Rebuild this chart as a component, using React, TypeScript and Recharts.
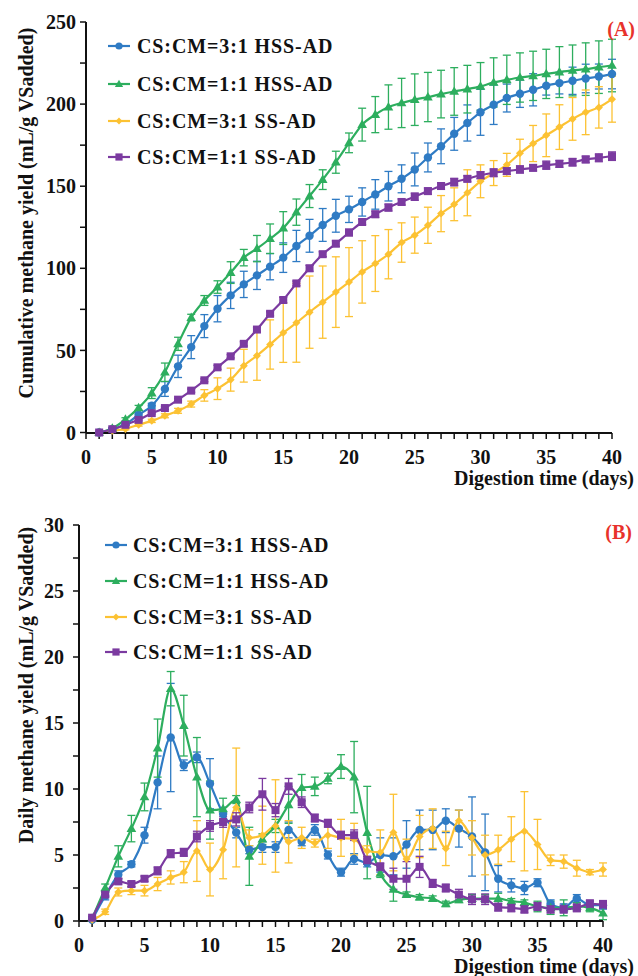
import React from 'react';
import { LineChart, Line, XAxis, YAxis, ErrorBar } from 'recharts';

const FONT = "'Liberation Serif', 'Times New Roman', serif";

const days = [1, 2, 3, 4, 5, 6, 7, 8, 9, 10, 11, 12, 13, 14, 15, 16, 17, 18, 19, 20,
  21, 22, 23, 24, 25, 26, 27, 28, 29, 30, 31, 32, 33, 34, 35, 36, 37, 38, 39, 40];

const seriesNames = ['CS:CM=3:1 HSS-AD', 'CS:CM=1:1 HSS-AD', 'CS:CM=3:1 SS-AD', 'CS:CM=1:1 SS-AD'];

// (A) cumulative methane yield
const cumHss31 = [0, 2, 5, 10.8, 16.3, 26.5, 40.3, 52, 64.8, 75.4, 83.5, 90.2, 95.7, 101, 106.5, 113.6, 119.8, 126.4, 132, 135.9,
  140.4, 145, 150, 154.5, 160.2, 167.5, 174.3, 181.9, 188.5, 195, 199.6, 203.7, 206.3, 208.7, 211.2, 212.8, 214.2, 215.6, 216.8, 218.3];
const cumHss31Err = [0.3, 0.5, 0.8, 1.2, 1.5, 4.5, 6.8, 7, 7, 8, 8, 8, 8.6, 8, 9, 9.5, 10, 10, 10, 8,
  8.6, 9, 9, 8.5, 10, 8.8, 10.6, 10, 11, 14, 12, 8.5, 8.3, 9.8, 5.7, 6.6, 8.3, 8.7, 7.6, 9];
const cumHss11 = [0, 2.5, 8, 15, 24, 36.7, 54, 70, 80.4, 88.6, 97.4, 106.5, 112, 118, 124.5, 134.2, 144, 154, 164.6, 176.4,
  187.5, 193.6, 198.2, 200.7, 202.7, 204.3, 206.1, 207.7, 209.1, 210.8, 213.2, 214.8, 216.2, 217.2, 218.4, 219.5, 220.5, 221.3, 222.5, 223.5];
const cumHss11Err = [0.3, 0.5, 1, 1.5, 3.3, 5.6, 4, 2, 3, 3.8, 6.6, 5, 8, 9, 10, 8, 7, 6, 6.7, 6,
  10, 11, 13.5, 15, 15.7, 15, 14.5, 14.5, 14.5, 14.5, 15, 15, 15, 15, 15, 15.5, 15.5, 16, 16, 16];
const cumSs31 = [0, 1, 2.2, 4.7, 7.1, 10.2, 13.2, 17.3, 22.6, 26.7, 32.2, 40.7, 46.8, 53.6, 60.7, 66.8, 73.3, 79.4, 85.5, 91.6,
  97.8, 102.9, 108.6, 115.7, 120.2, 126.2, 133.3, 139, 146, 153, 158, 163, 170, 176, 181, 186, 191, 195, 198, 203];
const cumSs31Err = [0.2, 0.4, 0.6, 0.8, 1, 1.2, 1.5, 1.8, 3.5, 6.6, 7, 10, 15, 15, 18, 24, 22, 22, 21.5, 21,
  19, 17, 15, 12, 11, 11, 11, 10, 14, 10, 7.6, 7, 8.6, 11, 13, 13.6, 13, 13.6, 12.6, 14];
const cumSs11 = [0, 2, 4.7, 7.7, 11.8, 14.9, 20, 25.5, 31.8, 39.7, 46.4, 54, 62.7, 72.3, 80.7, 90.8, 100, 108.6, 115, 121.8,
  128.2, 132.9, 137, 140.4, 143.6, 147, 150.1, 152.5, 154.5, 156.7, 158.2, 159.2, 160.2, 161.2, 162.8, 163.6, 164.6, 166.3, 167.3, 168.3];
const cumSs11Err = [0.2, 0.4, 0.3, 0.6, 0.5, 0.8, 0.7, 1, 0.9, 1.2, 1, 1.3, 1.5, 1.2, 1.6, 1.4, 1.8, 1.5, 1.7, 2,
  1.6, 1.9, 2.1, 1.8, 2.2, 1.9, 2, 2.3, 1.8, 2.1, 2.4, 2, 2.2, 1.9, 2.5, 2.1, 2.3, 2, 2.4, 2.6];

// (B) daily methane yield
const dayHss31 = [0.1, 1.9, 3.5, 4.3, 6.5, 10.5, 13.9, 11.8, 12.4, 10.4, 8.1, 6.7, 5.4, 5.6, 5.6, 6.9, 6.0, 6.9, 5.0, 3.7,
  4.7, 4.4, 5.0, 4.9, 5.8, 6.9, 6.9, 7.6, 7.0, 6.4, 5.2, 3.2, 2.7, 2.5, 2.9, 1.3, 1.0, 1.7, 1.2, 1.2];
const dayHss31Err = [0.1, 0.3, 0.3, 0.2, 0.6, 2.0, 4.1, 0.4, 0.4, 1.9, 0.5, 0.4, 0.3, 0.4, 0.4, 0.6, 0.3, 0.4, 0.3, 0.3,
  0.4, 0.3, 1.3, 1.4, 1.8, 1.5, 1.5, 0.9, 1.4, 3.0, 2.9, 1.0, 0.5, 0.5, 0.3, 0.3, 0.3, 0.3, 0.3, 0.3];
const dayHss11 = [0.2, 2.5, 4.9, 7.0, 9.4, 13.1, 17.6, 14.8, 10.9, 8.4, 8.5, 9.2, 4.9, 6.2, 7.2, 8.8, 10.1, 10.2, 10.8, 11.7,
  10.9, 6.7, 3.6, 2.4, 2.0, 1.8, 1.7, 1.3, 1.6, 1.7, 1.7, 1.7, 1.5, 1.4, 1.1, 1.0, 1.0, 1.1, 1.0, 0.6];
const dayHss11Err = [0.1, 0.3, 0.8, 1.0, 1.05, 2.2, 1.3, 2.3, 3.0, 2.2, 0.8, 0.3, 2.2, 0.4, 0.5, 1.4, 1.0, 0.7, 0.4, 0.9,
  2.7, 3.5, 0.3, 0.9, 0.2, 0.2, 0.2, 0.2, 0.2, 0.3, 0.3, 0.4, 0.2, 0.2, 0.4, 0.5, 0.6, 0.3, 0.3, 0.5];
const daySs31 = [0.1, 0.7, 2.2, 2.3, 2.3, 2.8, 3.3, 3.7, 5.3, 3.9, 5.4, 8.6, 6.3, 6.5, 7.2, 6.0, 6.3, 5.9, 6.5, 6.3,
  6.2, 5.3, 5.2, 6.7, 4.7, 6.4, 7.0, 5.5, 7.6, 6.3, 5.0, 5.4, 6.2, 6.8, 5.8, 4.6, 4.5, 4.0, 3.7, 3.9];
const daySs31Err = [0, 0.2, 0.3, 0.3, 0.4, 0.5, 0.5, 0.8, 2.3, 2.0, 2.2, 4.5, 0.6, 2.2, 3.5, 1.6, 0.8, 0.3, 1.0, 1.4,
  1.2, 0.4, 1.7, 2.9, 1.5, 1.6, 1.5, 1.3, 0.8, 1.3, 1.5, 1.1, 1.7, 3.0, 1.9, 0.4, 0.5, 0.6, 0.2, 0.5];
const daySs11 = [0.25, 2.0, 3.0, 2.8, 3.2, 3.8, 5.1, 5.2, 6.4, 7.2, 7.5, 7.7, 8.6, 9.6, 8.4, 10.2, 9.0, 7.8, 7.4, 6.5,
  6.5, 4.6, 4.1, 3.2, 3.2, 4.1, 2.85, 2.5, 2.0, 1.65, 1.65, 1.05, 1.0, 0.9, 1.1, 0.9, 0.9, 1.0, 1.3, 1.25];
const daySs11Err = [0.1, 0.2, 0.2, 0.2, 0.2, 0.3, 0.3, 0.3, 0.4, 0.4, 0.4, 0.5, 0.4, 1.2, 0.5, 0.6, 0.4, 0.3, 0.3, 0.3,
  0.4, 0.3, 0.3, 0.8, 1.3, 0.8, 0.3, 0.3, 0.4, 0.4, 0.4, 0.3, 0.3, 0.3, 0.3, 0.3, 0.3, 0.3, 0.3, 0.3];

// axis ticks
const xTicks = [0, 1, 2, 3, 4, 5, 6, 7, 8, 9, 10, 11, 12, 13, 14, 15, 16, 17, 18, 19, 20,
  21, 22, 23, 24, 25, 26, 27, 28, 29, 30, 31, 32, 33, 34, 35, 36, 37, 38, 39, 40];
const xLabels = [0, 5, 10, 15, 20, 25, 30, 35, 40];
const cumYTicks = [0, 25, 50, 75, 100, 125, 150, 175, 200, 225, 250];
const cumYLabels = [0, 50, 100, 150, 200, 250];
const dayYTicks = [0, 2.5, 5, 7.5, 10, 12.5, 15, 17.5, 20, 22.5, 25, 27.5, 30];
const dayYLabels = [0, 5, 10, 15, 20, 25, 30];

const colors = ['#2F7BC4', '#2DAE5E', '#FCC233', '#7B3AA0'];
const shapes = ['circle', 'triangle', 'diamond', 'square'];

const cumData = days.map((d, i) => ({
  day: d,
  s0: cumHss31[i], e0: cumHss31Err[i],
  s1: cumHss11[i], e1: cumHss11Err[i],
  s2: cumSs31[i], e2: cumSs31Err[i],
  s3: cumSs11[i], e3: cumSs11Err[i],
}));

const dayData = days.map((d, i) => ({
  day: d,
  s0: dayHss31[i], e0: dayHss31Err[i],
  s1: dayHss11[i], e1: dayHss11Err[i],
  s2: daySs31[i], e2: daySs31Err[i],
  s3: daySs11[i], e3: daySs11Err[i],
}));

function Marker({ shape, cx, cy, color, s }: { shape: string; cx: number; cy: number; color: string; s: number }) {
  if (shape === 'circle') return <circle cx={cx} cy={cy} r={s} fill={color} />;
  if (shape === 'triangle') {
    const pts = `${cx},${cy - s * 1.2} ${cx - s * 1.15},${cy + s * 0.8} ${cx + s * 1.15},${cy + s * 0.8}`;
    return <polygon points={pts} fill={color} />;
  }
  if (shape === 'diamond') {
    const pts = `${cx},${cy - s} ${cx + s},${cy} ${cx},${cy + s} ${cx - s},${cy}`;
    return <polygon points={pts} fill={color} />;
  }
  return <rect x={cx - s} y={cy - s} width={s * 2} height={s * 2} fill={color} />;
}

const sizes = [4.2, 4.2, 4, 4];

const makeDot = (k: number) => (props: any) => {
  const { cx, cy, index } = props;
  if (cx == null || cy == null) return <g key={`dot-${k}-${index}`} />;
  return (
    <g key={`dot-${k}-${index}`}>
      <Marker shape={shapes[k]} cx={cx} cy={cy} color={colors[k]} s={sizes[k]} />
    </g>
  );
};

const tickStyle = { fontSize: 20, fontWeight: 700, fill: '#111', fontFamily: FONT };
const axisLine = { stroke: '#111', strokeWidth: 2 };
const tickLine = { stroke: '#111', strokeWidth: 1.5 };

function Panel({ data, width, height, margin, yWidth, yDomain, yTicks, yLabels, yTickMargin }: any) {
  return (
    <LineChart width={width} height={height} data={data} margin={margin}>
      <XAxis
        type="number"
        dataKey="day"
        domain={[0, 40]}
        ticks={xTicks}
        interval={0}
        tickFormatter={(v: number) => (xLabels.includes(v) ? String(v) : '')}
        tick={tickStyle}
        tickSize={6}
        tickMargin={11}
        height={30}
        axisLine={axisLine}
        tickLine={tickLine}
      />
      <YAxis
        type="number"
        domain={yDomain}
        ticks={yTicks}
        interval={0}
        tickFormatter={(v: number) => (yLabels.includes(v) ? String(v) : '')}
        tick={tickStyle}
        tickSize={6}
        tickMargin={yTickMargin}
        width={yWidth}
        axisLine={axisLine}
        tickLine={tickLine}
      />
      {[0, 1, 2, 3].map((k) => (
        <Line
          key={k}
          type="monotone"
          dataKey={`s${k}`}
          name={seriesNames[k]}
          stroke={colors[k]}
          strokeWidth={2.2}
          dot={makeDot(k)}
          activeDot={false}
          isAnimationActive={false}
        >
          <ErrorBar dataKey={`e${k}`} direction="y" width={4} stroke={colors[k]} strokeWidth={1.3} />
        </Line>
      ))}
    </LineChart>
  );
}

function LegendBlock({ rows, x0, x1, tx }: { rows: number[]; x0: number; x1: number; tx: number }) {
  const mx = (x0 + x1) / 2;
  return (
    <g>
      {rows.map((y, k) => (
        <g key={k}>
          <line x1={x0} y1={y} x2={x1} y2={y} stroke={colors[k]} strokeWidth={2.2} />
          <Marker shape={shapes[k]} cx={mx} cy={y} color={colors[k]} s={k === 2 ? 3.4 : 3.6} />
          <text x={tx} y={y} dy="0.35em" fontSize={20} fontWeight={700} fontFamily={FONT} fill="#111" letterSpacing={0.9}>
            {seriesNames[k]}
          </text>
        </g>
      ))}
    </g>
  );
}

export default function App() {
  const textProps = { fontSize: 20, fontWeight: 700, fontFamily: FONT, fill: '#111' };
  return (
    <div style={{ position: 'absolute', left: 0, top: 0, width: 638, height: 976, background: '#fff', overflow: 'hidden' }}>
      <div style={{ position: 'absolute', left: 0, top: 0 }}>
        <Panel
          data={cumData}
          width={638}
          height={490}
          margin={{ top: 22, right: 26, left: 26, bottom: 27 }}
          yWidth={60}
          yDomain={[0, 250]}
          yTicks={cumYTicks}
          yLabels={cumYLabels}
          yTickMargin={4}
        />
      </div>
      <div style={{ position: 'absolute', left: 0, top: 490 }}>
        <Panel
          data={dayData}
          width={638}
          height={486}
          margin={{ top: 35, right: 35, left: 24, bottom: 25 }}
          yWidth={55}
          yDomain={[0, 30]}
          yTicks={dayYTicks}
          yLabels={dayYLabels}
          yTickMargin={9}
        />
      </div>
      <svg width={638} height={976} style={{ position: 'absolute', left: 0, top: 0, pointerEvents: 'none' }}>
        {/* panel A texts */}
        <text {...textProps} x={26} y={213} dy="0.35em" textAnchor="middle" transform="rotate(-90 26 213)">
          Cumulative methane yield (mL/g VSadded)
        </text>
        <text {...textProps} x={634} y={478} dy="0.35em" textAnchor="end">Digestion time (days)</text>
        <text {...textProps} x={635} y={29} dy="0.35em" textAnchor="end" fill="#E8322B">(A)</text>
        <LegendBlock rows={[46, 84, 121, 157]} x0={108} x1={130} tx={137} />
        {/* panel B texts */}
        <text {...textProps} x={26} y={685} dy="0.35em" textAnchor="middle" transform="rotate(-90 26 685)">
          Daily methane yield (mL/g VSadded)
        </text>
        <text {...textProps} x={634} y={966} dy="0.35em" textAnchor="end">Digestion time (days)</text>
        <text {...textProps} x={632} y={532} dy="0.35em" textAnchor="end" fill="#E8322B">(B)</text>
        <LegendBlock rows={[545, 581, 617, 652]} x0={105} x1={127} tx={133} />
      </svg>
    </div>
  );
}
